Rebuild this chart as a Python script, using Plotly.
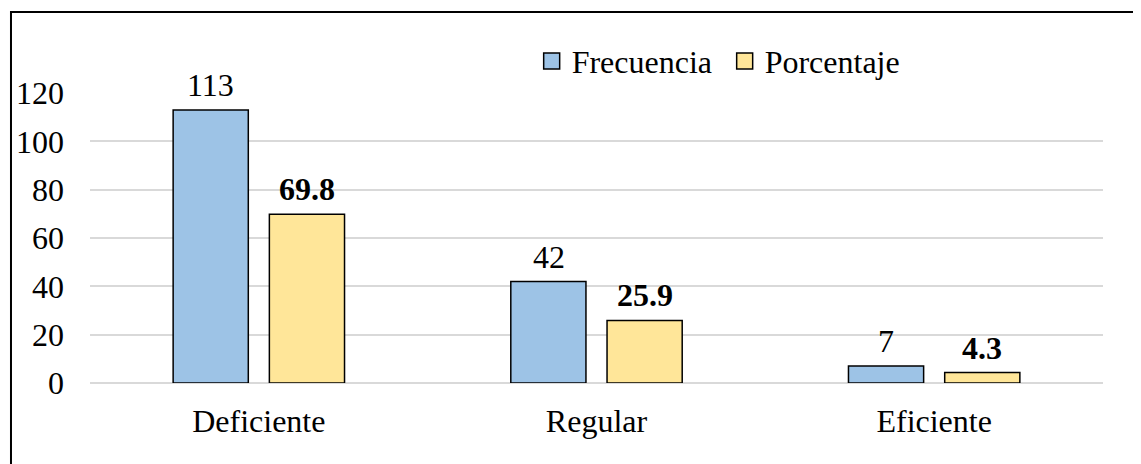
import plotly.graph_objects as go

categories = ["Deficiente", "Regular", "Eficiente"]
frecuencia = [113, 42, 7]
porcentaje = [69.8, 25.9, 4.3]
frec_labels = ["113", "42", "7"]
porc_labels = ["69.8", "25.9", "4.3"]
y_ticks = [0, 20, 40, 60, 80, 100, 120]

FONT = "Liberation Serif"
FS = 32
BLUE = "#9DC3E6"
YELLOW = "#FFE699"

fig = go.Figure()
fig.add_trace(go.Bar(
    name="Frecuencia", x=categories, y=frecuencia, showlegend=False,
    marker=dict(color=BLUE, line=dict(color="black", width=1.5)),
))
fig.add_trace(go.Bar(
    name="Porcentaje", x=categories, y=porcentaje, showlegend=False,
    marker=dict(color=YELLOW, line=dict(color="black", width=1.5)),
))
# legend-only entries with larger square symbols
for name, col in [("Frecuencia", BLUE), ("Porcentaje", YELLOW)]:
    fig.add_trace(go.Scatter(
        name=name, x=[None], y=[None], mode="markers",
        marker=dict(symbol="square", size=16, color=col, line=dict(color="black", width=1.5)),
    ))

annotations = []
for cat, v, t in zip(categories, frecuencia, frec_labels):
    annotations.append(dict(x=cat, y=v, text=t, showarrow=False, xshift=-48, yshift=5,
                            yanchor="bottom", font=dict(family=FONT, size=FS, color="black")))
for cat, v, t in zip(categories, porcentaje, porc_labels):
    annotations.append(dict(x=cat, y=v, text="<b>" + t + "</b>", showarrow=False, xshift=48, yshift=5,
                            yanchor="bottom", font=dict(family=FONT, size=FS, color="black")))

fig.update_layout(
    width=1141, height=464,
    margin=dict(l=82, r=46, t=85, b=89),
    paper_bgcolor="white", plot_bgcolor="white",
    font=dict(family=FONT, size=FS, color="black"),
    barmode="group", bargap=0.43, bargroupgap=0.219,
    showlegend=True,
    legend=dict(orientation="h", x=0.436, xanchor="left", y=1.11, yanchor="middle",
                font=dict(family=FONT, size=FS, color="black"),
                entrywidth=148, entrywidthmode="pixels",
                bgcolor="rgba(0,0,0,0)", itemclick=False, tracegroupgap=0),
    xaxis=dict(showgrid=False, showline=False, zeroline=False, ticks="", automargin=False,
               ticklabelstandoff=16, tickfont=dict(family=FONT, size=FS)),
    yaxis=dict(range=[0, 120], tickvals=y_ticks, showgrid=True, gridcolor="#D9D9D9",
               gridwidth=1.5, zeroline=True, zerolinecolor="#D9D9D9", zerolinewidth=1.5,
               showline=False, ticks="", ticklabelstandoff=25, automargin=False,
               tickfont=dict(family=FONT, size=FS)),
    annotations=annotations,
    shapes=[dict(type="path", xref="paper", yref="paper",
                 path="M -0.078,-0.5 L -0.078,1.279 L 1.2,1.279",
                 line=dict(color="black", width=2), layer="above")],
)

fig.write_html("out.html")
